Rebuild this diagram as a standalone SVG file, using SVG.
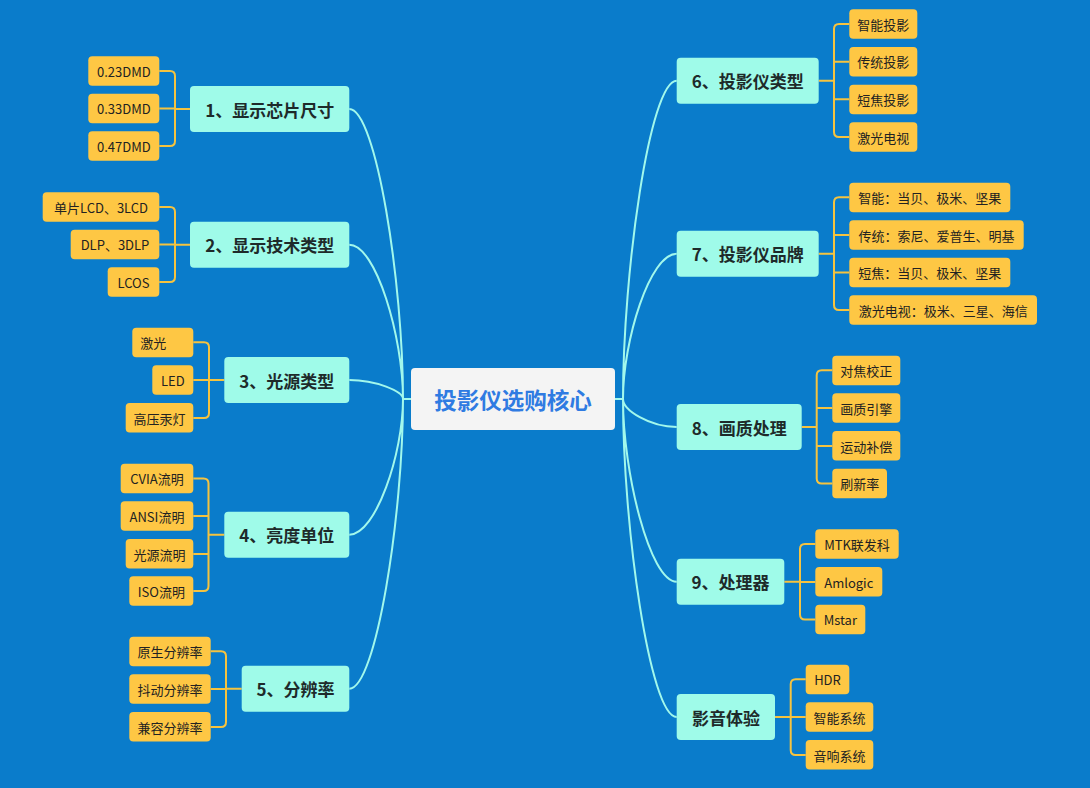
<svg xmlns="http://www.w3.org/2000/svg" width="1090" height="788" viewBox="0 0 1090 788">
<style>
.bg{fill:#0a7ccb}
.l1 rect{fill:#9ffbe9}
.l1 text{font-family:"Noto Sans CJK SC","Noto Sans",sans-serif;font-size:17px;font-weight:bold;fill:#1e2a2a;text-anchor:middle;dominant-baseline:central}
.lf rect{fill:#fec744}
.lf text{font-family:"Noto Sans CJK SC","Noto Sans",sans-serif;font-size:13px;fill:#222;text-anchor:middle;dominant-baseline:central}
.curve{fill:none;stroke:#a2f8ec;stroke-width:2}
.br{fill:none;stroke:#f6c33f;stroke-width:2}
</style>
<rect class="bg" x="0" y="0" width="1090" height="788"/>
<g id="connectors">
<path class="curve" d="M349.3,109 C376,109 403,283 403,399 M349.3,244.7 C376,244.7 403,337.3 403,399 M349.3,380 C376,380 403,391.4 403,399 M349.3,534.7 C376,534.7 403,453.3 403,399 M349.3,688.7 C376,688.7 403,514.9 403,399 M403,399 H411"/>
<path class="curve" d="M676.7,80.7 C649.8,80.7 623,271.7 623,399 M676.7,253.7 C649.8,253.7 623,340.9 623,399 M676.7,427 C649.8,427 623,410.2 623,399 M676.7,581.7 C649.8,581.7 623,472.1 623,399 M676.7,717 C649.8,717 623,526.2 623,399 M615,399 H623"/>
<path class="br" d="M159.3,71 H170 Q175,71 175,76 V141 Q175,146 170,146 H159.3 M159.3,108.5 H175 M175,109 H190"/>
<path class="br" d="M159.3,207 H170 Q175,207 175,212 V277 Q175,282 170,282 H159.3 M159.3,244.5 H175 M175,244.7 H190"/>
<path class="br" d="M193.3,342.3 H204 Q209,342.3 209,347.3 V413 Q209,418 204,418 H193.3 M193.3,380 H209 M209,380 H224.3"/>
<path class="br" d="M193.3,478.5 H203.5 Q208.5,478.5 208.5,483.5 V586 Q208.5,591 203.5,591 H193.3 M193.3,516 H208.5 M193.3,554 H208.5 M208.5,534.7 H224.3"/>
<path class="br" d="M210.7,651.3 H221 Q226,651.3 226,656.3 V722 Q226,727 221,727 H210.7 M210.7,689 H226 M226,688.7 H241.7"/>
<path class="br" d="M849.3,24 H839 Q834,24 834,29 V132 Q834,137 839,137 H849.3 M834,61.7 H849.3 M834,99.3 H849.3 M818.7,80.7 H834"/>
<path class="br" d="M849.3,197.3 H839 Q834,197.3 834,202.3 V305 Q834,310 839,310 H849.3 M834,235 H849.3 M834,272.5 H849.3 M818.7,253.7 H834"/>
<path class="br" d="M832.3,370.3 H821.7 Q816.7,370.3 816.7,375.3 V478.5 Q816.7,483.5 821.7,483.5 H832.3 M816.7,408 H832.3 M816.7,446 H832.3 M801.7,427 H816.7"/>
<path class="br" d="M815.3,544 H805 Q800,544 800,549 V614.5 Q800,619.5 805,619.5 H815.3 M800,582 H815.3 M784.3,581.7 H800"/>
<path class="br" d="M805.7,679.3 H795.7 Q790.7,679.3 790.7,684.3 V750 Q790.7,755 795.7,755 H805.7 M790.7,717 H805.7 M775,717 H790.7"/>
</g>
<g id="center">
<rect x="411" y="368" width="204" height="62" rx="4" fill="#f4f4f4"/>
<text x="513" y="399" font-family="'Noto Sans CJK SC','Noto Sans',sans-serif" font-size="22.5" font-weight="bold" fill="#2f7be2" text-anchor="middle" dominant-baseline="central">投影仪选购核心</text>
</g>
<g id="n1" class="l1"><rect x="190" y="86" width="159.3" height="46" rx="4"/><text x="269.7" y="109">1、显示芯片尺寸</text></g>
<g id="n2" class="l1"><rect x="190" y="221.7" width="159.3" height="46" rx="4"/><text x="269.7" y="244.7">2、显示技术类型</text></g>
<g id="n3" class="l1"><rect x="224.3" y="357" width="125" height="46" rx="4"/><text x="286.8" y="380">3、光源类型</text></g>
<g id="n4" class="l1"><rect x="224.3" y="511.7" width="125" height="46" rx="4"/><text x="286.8" y="534.7">4、亮度单位</text></g>
<g id="n5" class="l1"><rect x="241.7" y="665.7" width="107.6" height="46" rx="4"/><text x="295.5" y="688.7">5、分辨率</text></g>
<g id="n6" class="l1"><rect x="676.7" y="57.7" width="142" height="46" rx="4"/><text x="747.7" y="80.7">6、投影仪类型</text></g>
<g id="n7" class="l1"><rect x="676.7" y="230.7" width="142" height="46" rx="4"/><text x="747.7" y="253.7">7、投影仪品牌</text></g>
<g id="n8" class="l1"><rect x="676.7" y="404" width="125" height="46" rx="4"/><text x="739.2" y="427">8、画质处理</text></g>
<g id="n9" class="l1"><rect x="676.7" y="558.7" width="107.6" height="46" rx="4"/><text x="730.5" y="581.7">9、处理器</text></g>
<g id="n10" class="l1"><rect x="676.7" y="694" width="98.3" height="46" rx="4"/><text x="725.9" y="717">影音体验</text></g>
<g id="l1a" class="lf"><rect x="88.3" y="56.3" width="71" height="29.5" rx="4"/><text x="123.8" y="71">0.23DMD</text></g>
<g id="l1b" class="lf"><rect x="88.3" y="93.7" width="71" height="29.5" rx="4"/><text x="123.8" y="108.5">0.33DMD</text></g>
<g id="l1c" class="lf"><rect x="88.3" y="131.3" width="71" height="29.5" rx="4"/><text x="123.8" y="146">0.47DMD</text></g>
<g id="l2a" class="lf"><rect x="42.7" y="192.3" width="116.6" height="29.5" rx="4"/><text x="101" y="207">单片LCD、3LCD</text></g>
<g id="l2b" class="lf"><rect x="70.7" y="229.7" width="88.6" height="29.5" rx="4"/><text x="115" y="244.5">DLP、3DLP</text></g>
<g id="l2c" class="lf"><rect x="107.7" y="267.3" width="51.6" height="29.5" rx="4"/><text x="133.5" y="282">LCOS</text></g>
<g id="l3a" class="lf"><rect x="132.3" y="327.7" width="61" height="29.5" rx="4"/><text x="140.3" y="342.3" style="text-anchor:start">激光</text></g>
<g id="l3b" class="lf"><rect x="152.3" y="365.3" width="41" height="29.5" rx="4"/><text x="172.8" y="380">LED</text></g>
<g id="l3c" class="lf"><rect x="125.7" y="403" width="67.6" height="29.5" rx="4"/><text x="159.5" y="418">高压汞灯</text></g>
<g id="l4a" class="lf"><rect x="120.7" y="463.7" width="72.6" height="29.5" rx="4"/><text x="157" y="478.5">CVIA流明</text></g>
<g id="l4b" class="lf"><rect x="120.7" y="501.3" width="72.6" height="29.5" rx="4"/><text x="157" y="516">ANSI流明</text></g>
<g id="l4c" class="lf"><rect x="125.7" y="539" width="67.6" height="29.5" rx="4"/><text x="159.5" y="554">光源流明</text></g>
<g id="l4d" class="lf"><rect x="129.3" y="576.3" width="64" height="29.5" rx="4"/><text x="161.3" y="591">ISO流明</text></g>
<g id="l5a" class="lf"><rect x="129.3" y="636.7" width="81.4" height="29.5" rx="4"/><text x="170" y="651.3">原生分辨率</text></g>
<g id="l5b" class="lf"><rect x="129.3" y="674.3" width="81.4" height="29.5" rx="4"/><text x="170" y="689">抖动分辨率</text></g>
<g id="l5c" class="lf"><rect x="129.3" y="712" width="81.4" height="29.5" rx="4"/><text x="170" y="727">兼容分辨率</text></g>
<g id="l6a" class="lf"><rect x="849.3" y="9.3" width="68" height="29.5" rx="4"/><text x="883.3" y="24">智能投影</text></g>
<g id="l6b" class="lf"><rect x="849.3" y="47" width="68" height="29.5" rx="4"/><text x="883.3" y="61.7">传统投影</text></g>
<g id="l6c" class="lf"><rect x="849.3" y="84.7" width="68" height="29.5" rx="4"/><text x="883.3" y="99.3">短焦投影</text></g>
<g id="l6d" class="lf"><rect x="849.3" y="122.3" width="68" height="29.5" rx="4"/><text x="883.3" y="137">激光电视</text></g>
<g id="l7a" class="lf"><rect x="849.3" y="182.7" width="161" height="29.5" rx="4"/><text x="929.8" y="197.3">智能：当贝、极米、坚果</text></g>
<g id="l7b" class="lf"><rect x="849.3" y="220.3" width="174.4" height="29.5" rx="4"/><text x="936.5" y="235">传统：索尼、爱普生、明基</text></g>
<g id="l7c" class="lf"><rect x="849.3" y="257.7" width="161" height="29.5" rx="4"/><text x="929.8" y="272.5">短焦：当贝、极米、坚果</text></g>
<g id="l7d" class="lf"><rect x="849.3" y="295.3" width="187.7" height="29.5" rx="4"/><text x="943.2" y="310">激光电视：极米、三星、海信</text></g>
<g id="l8a" class="lf"><rect x="832.3" y="355.7" width="68" height="29.5" rx="4"/><text x="866.3" y="370.3">对焦校正</text></g>
<g id="l8b" class="lf"><rect x="832.3" y="393.3" width="68" height="29.5" rx="4"/><text x="866.3" y="408">画质引擎</text></g>
<g id="l8c" class="lf"><rect x="832.3" y="431" width="68" height="29.5" rx="4"/><text x="866.3" y="446">运动补偿</text></g>
<g id="l8d" class="lf"><rect x="832.3" y="468.7" width="54.7" height="29.5" rx="4"/><text x="859.7" y="483.5">刷新率</text></g>
<g id="l9a" class="lf"><rect x="815.3" y="529.3" width="83.4" height="29.5" rx="4"/><text x="857" y="544">MTK联发科</text></g>
<g id="l9b" class="lf"><rect x="815.3" y="567" width="67" height="29.5" rx="4"/><text x="848.8" y="582">Amlogic</text></g>
<g id="l9c" class="lf"><rect x="815.3" y="604.7" width="50" height="29.5" rx="4"/><text x="840.3" y="619.5">Mstar</text></g>
<g id="l10a" class="lf"><rect x="805.7" y="664.7" width="43.6" height="29.5" rx="4"/><text x="827.5" y="679.3">HDR</text></g>
<g id="l10b" class="lf"><rect x="805.7" y="702.3" width="67.6" height="29.5" rx="4"/><text x="839.5" y="717">智能系统</text></g>
<g id="l10c" class="lf"><rect x="805.7" y="740" width="67.6" height="29.5" rx="4"/><text x="839.5" y="755">音响系统</text></g>
</svg>
